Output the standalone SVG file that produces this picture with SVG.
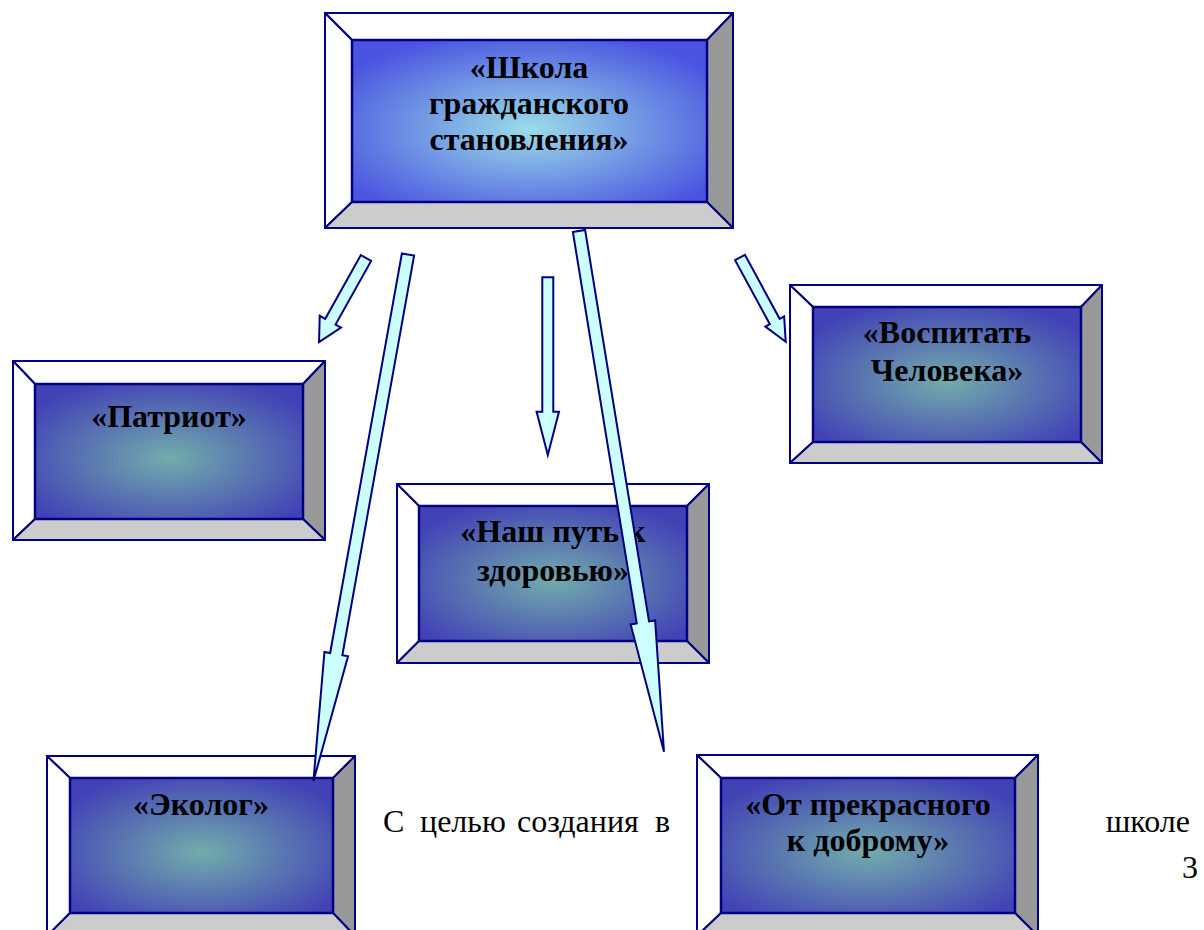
<svg xmlns="http://www.w3.org/2000/svg" width="1204" height="930" viewBox="0 0 1204 930">
<defs>
<radialGradient id="gTop" cx="0.5" cy="0.55" r="0.62">
<stop offset="0" stop-color="#9adce8"/>
<stop offset="1" stop-color="#4a54e0"/>
</radialGradient>
<radialGradient id="gBox" cx="0.5" cy="0.55" r="0.62">
<stop offset="0" stop-color="#72acab"/>
<stop offset="1" stop-color="#4242b6"/>
</radialGradient>
<style>
.bev{stroke:#000080;stroke-width:2;stroke-linejoin:round}
.lt{fill:#ffffff}
.rt{fill:#999999}
.bt{fill:#cccccc}
.face{stroke:#000080;stroke-width:2.5}
.lbl{font-family:'Liberation Serif','Times New Roman','DejaVu Serif',serif;font-weight:bold;font-size:32px;fill:#000;text-anchor:middle}
.body{font-family:'Liberation Serif','Times New Roman','DejaVu Serif',serif;font-size:32px;fill:#000}
.arr{fill:#ccffff;stroke:#000080;stroke-width:2;stroke-linejoin:miter}
</style>
</defs>
<rect width="1204" height="930" fill="#ffffff"/>

<g id="node-school">
<polygon class="bev lt" points="325,13 733,13 707,40 352,40"/>
<polygon class="bev lt" points="325,13 352,40 352,202 325,228"/>
<polygon class="bev rt" points="733,13 733,228 707,202 707,40"/>
<polygon class="bev bt" points="325,228 352,202 707,202 733,228"/>
<rect class="face" x="352" y="40" width="355" height="162" fill="url(#gTop)"/>
<text class="lbl" x="529" y="78">«Школа</text>
<text class="lbl" x="529" y="114">гражданского</text>
<text class="lbl" x="529" y="150">становления»</text>
</g>

<g id="node-patriot">
<polygon class="bev lt" points="13,361 325,361 303,384 35,384"/>
<polygon class="bev lt" points="13,361 35,384 35,519 13,540"/>
<polygon class="bev rt" points="325,361 325,540 303,519 303,384"/>
<polygon class="bev bt" points="13,540 35,519 303,519 325,540"/>
<rect class="face" x="35" y="384" width="268" height="135" fill="url(#gBox)"/>
<text class="lbl" x="169" y="427">«Патриот»</text>
</g>

<g id="node-vospitat">
<polygon class="bev lt" points="790,285 1102,285 1081,307 813,307"/>
<polygon class="bev lt" points="790,285 813,307 813,442 790,463"/>
<polygon class="bev rt" points="1102,285 1102,463 1081,442 1081,307"/>
<polygon class="bev bt" points="790,463 813,442 1081,442 1102,463"/>
<rect class="face" x="813" y="307" width="268" height="135" fill="url(#gBox)"/>
<text class="lbl" x="947" y="343">«Воспитать</text>
<text class="lbl" x="947" y="381">Человека»</text>
</g>

<g id="node-health">
<polygon class="bev lt" points="397,484 709,484 687,506 419,506"/>
<polygon class="bev lt" points="397,484 419,506 419,641 397,663"/>
<polygon class="bev rt" points="709,484 709,663 687,641 687,506"/>
<polygon class="bev bt" points="397,663 419,641 687,641 709,663"/>
<rect class="face" x="419" y="506" width="268" height="135" fill="url(#gBox)"/>
<text class="lbl" x="553" y="542">«Наш путь к</text>
<text class="lbl" x="553" y="581">здоровью»</text>
</g>

<g id="node-ecolog">
<polygon class="bev lt" points="47,756 355,756 333,778 70,778"/>
<polygon class="bev lt" points="47,756 70,778 70,913 47,936"/>
<polygon class="bev rt" points="355,756 355,936 333,913 333,778"/>
<polygon class="bev bt" points="47,936 70,913 333,913 355,936"/>
<rect class="face" x="70" y="778" width="263" height="135" fill="url(#gBox)"/>
<text class="lbl" x="201" y="815">«Эколог»</text>
</g>

<g id="node-beauty">
<polygon class="bev lt" points="697,755 1038,755 1015,778 721,778"/>
<polygon class="bev lt" points="697,755 721,778 721,913 697,936"/>
<polygon class="bev rt" points="1038,755 1038,936 1015,913 1015,778"/>
<polygon class="bev bt" points="697,936 721,913 1015,913 1038,936"/>
<rect class="face" x="721" y="778" width="294" height="135" fill="url(#gBox)"/>
<text class="lbl" x="868" y="815">«От прекрасного</text>
<text class="lbl" x="868" y="851">к доброму»</text>
</g>

<g id="body-text">
<text class="body" y="832"><tspan x="383">С</tspan><tspan x="420">целью</tspan><tspan x="517">создания</tspan><tspan x="655">в</tspan></text>
<text class="body" x="1190" y="832" text-anchor="end">школе</text>
<text class="body" x="1198" y="878" text-anchor="end">3</text>
</g>

<g id="connectors">
<polygon class="arr" transform="translate(366,258) rotate(29.2)" points="-5.9,0 5.9,0 5.9,73 12.2,73 0,96.3 -12.2,73 -5.9,73"/>
<polygon class="arr" transform="translate(408,254.5) rotate(10.18)" points="-6.2,0 6.2,0 6.2,406 12,406 0,535 -12,406 -6.2,406"/>
<polygon class="arr" transform="translate(547.8,277.3)" points="-5.5,0 5.5,0 5.5,134.4 11.2,134.4 0,177.7 -11.2,134.4 -5.5,134.4"/>
<polygon class="arr" transform="translate(579,231) rotate(-9.27)" points="-6.2,0 6.2,0 6.2,396.6 12.4,396.6 0,527.6 -12.4,396.6 -6.2,396.6"/>
<polygon class="arr" transform="translate(740,257.5) rotate(-28.5)" points="-5.6,0 5.6,0 5.6,72.8 10.7,72.8 0,95.8 -10.7,72.8 -5.6,72.8"/>
</g>
</svg>
